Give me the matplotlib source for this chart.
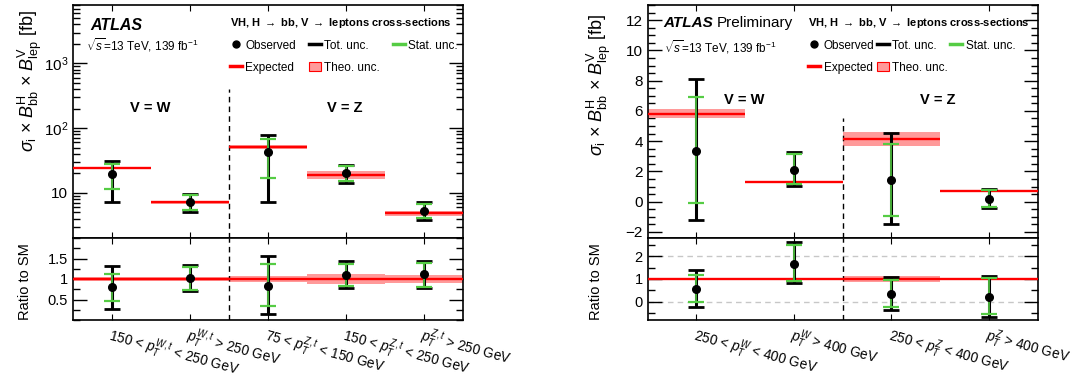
import matplotlib
matplotlib.use("Agg")
import matplotlib.pyplot as plt
import numpy as np
from matplotlib.ticker import FixedLocator, MultipleLocator, LogLocator, NullFormatter, FuncFormatter
from matplotlib.lines import Line2D
from matplotlib.patches import Patch

plt.rcParams['font.family'] = ['Liberation Sans', 'DejaVu Sans']
plt.rcParams['mathtext.fontset'] = 'custom'
plt.rcParams['mathtext.rm'] = 'Liberation Sans'
plt.rcParams['mathtext.it'] = 'Liberation Sans:italic'
plt.rcParams['mathtext.bf'] = 'Liberation Sans:bold'

# ---- left plot: 5 bins (medium pT + high pT, log scale)
labels_a = [r"150 < $p_{T}^{W,t}$ < 250 GeV",
            r"$p_{T}^{W,t}$ > 250 GeV",
            r"75 < $p_{T}^{Z,t}$ < 150 GeV",
            r"150 < $p_{T}^{Z,t}$ < 250 GeV",
            r"$p_{T}^{Z,t}$ > 250 GeV"]
exp_a = [24.0, 7.1, 51.0, 19.0, 4.8]
theo_a = [0.04, 0.04, 0.08, 0.13, 0.09]
obs_a = [19.3, 7.2, 42.5, 20.3, 5.3]
tot_lo_a = [7.2, 5.1, 7.2, 14.4, 3.85]
tot_hi_a = [31.0, 9.6, 79.0, 27.3, 7.2]
stat_lo_a = [11.5, 5.4, 17.2, 15.2, 4.1]
stat_hi_a = [27.5, 9.3, 67.0, 26.3, 6.8]
r_obs_a = [0.80, 1.02, 0.84, 1.09, 1.11]
r_tot_lo_a = [0.28, 0.71, 0.14, 0.78, 0.79]
r_tot_hi_a = [1.31, 1.34, 1.57, 1.43, 1.45]
r_stat_lo_a = [0.47, 0.74, 0.33, 0.82, 0.80]
r_stat_hi_a = [1.13, 1.30, 1.36, 1.37, 1.40]

# ---- right plot: 4 bins (very high pT, linear scale)
labels_b = [r"250 < $p_{T}^{W}$ < 400 GeV",
            r"$p_{T}^{W}$ > 400 GeV",
            r"250 < $p_{T}^{Z}$ < 400 GeV",
            r"$p_{T}^{Z}$ > 400 GeV"]
exp_b = [5.82, 1.27, 4.12, 0.72]
theo_b = [0.05, 0.04, 0.11, 0.05]
obs_b = [3.36, 2.09, 1.41, 0.20]
tot_lo_b = [-1.2, 1.03, -1.47, -0.43]
tot_hi_b = [8.1, 3.29, 4.52, 0.86]
stat_lo_b = [-0.07, 1.18, -0.94, -0.37]
stat_hi_b = [6.9, 3.14, 3.84, 0.75]
r_obs_b = [0.56, 1.68, 0.35, 0.22]
r_tot_lo_b = [-0.24, 0.81, -0.36, -0.66]
r_tot_hi_b = [1.39, 2.61, 1.09, 1.13]
r_stat_lo_b = [-0.03, 0.90, -0.24, -0.53]
r_stat_hi_b = [1.19, 2.50, 0.95, 1.03]

RED = '#ff0000'
BAND = '#ff9a9a'
GREEN = '#55cc44'


def draw_points(ax, x, obs, tlo, thi, slo, shi):
    obs = np.asarray(obs)
    ax.errorbar(x, obs, yerr=[obs - np.asarray(tlo), np.asarray(thi) - obs],
                fmt='none', ecolor='black', elinewidth=2.2, capsize=6, capthick=2, zorder=4)
    ax.errorbar(x, obs, yerr=[obs - np.asarray(slo), np.asarray(shi) - obs],
                fmt='none', ecolor=GREEN, elinewidth=1.2, capsize=6, capthick=1.6, zorder=5)
    ax.plot(x, obs, 'o', color='black', ms=5.5, zorder=6)


def draw_expected(ax, x, exp, theo):
    for i in range(len(x)):
        e, t = exp[i], theo[i]
        ax.fill_between([x[i] - 0.5, x[i] + 0.5], e * (1 - t), e * (1 + t),
                        color=BAND, lw=0, zorder=2)
        ax.hlines(e, x[i] - 0.5, x[i] + 0.5, color=RED, lw=1.7, zorder=3)


def style(ax, n):
    ax.set_xlim(-0.5, n - 0.5)
    ax.set_xticks(np.arange(n))
    ax.tick_params(axis='y', which='both', direction='in', left=True, right=True, labelsize=11)
    ax.tick_params(axis='y', which='major', length=10, width=1)
    ax.tick_params(axis='y', which='minor', length=5, width=1)
    ax.tick_params(axis='x', which='both', direction='in', top=True, bottom=True, length=4)
    for s in ax.spines.values():
        s.set_linewidth(1.2)


def add_legend(ax, x0, colsp):
    handles = [Line2D([], [], marker='o', color='black', ls='none', ms=5),
               Line2D([], [], color=RED, lw=2.5),
               Line2D([], [], color='black', lw=2.5),
               Patch(facecolor=BAND, edgecolor=RED, lw=0.8),
               Line2D([], [], color=GREEN, lw=2.5)]
    names = ['Observed', 'Expected', 'Tot. unc.', 'Theo. unc.', 'Stat. unc.']
    leg = ax.legend(handles, names, ncol=3, loc='upper left', bbox_to_anchor=(x0, 0.975),
                    frameon=False, fontsize=8.5, handlelength=1.0, handletextpad=0.3,
                    columnspacing=colsp, labelspacing=0.85, borderaxespad=0,
                    title=r"VH, H $\rightarrow$ bb, V $\rightarrow$ leptons cross-sections",
                    title_fontproperties={'weight': 'bold', 'size': 8}, alignment='left')
    return leg


fig = plt.figure(figsize=(10.91, 3.83), dpi=100)

# ===== left
ax1 = fig.add_axes([73 / 1091, 145 / 383, 390 / 1091, 233 / 383])
rx1 = fig.add_axes([73 / 1091, 63 / 383, 390 / 1091, 82 / 383])
xa = np.arange(len(exp_a))
draw_expected(ax1, xa, exp_a, theo_a)
draw_points(ax1, xa, obs_a, tot_lo_a, tot_hi_a, stat_lo_a, stat_hi_a)
ax1.set_yscale('log')
ax1.set_ylim(2, 8000)
style(ax1, len(xa))
ax1.yaxis.set_major_locator(FixedLocator([10, 100, 1000]))
ax1.yaxis.set_major_formatter(FuncFormatter(lambda v, p: "10" if v == 10 else r"$10^{%d}$" % round(np.log10(v))))
ax1.yaxis.set_minor_locator(LogLocator(subs=np.arange(2, 10), numticks=20))
ax1.yaxis.set_minor_formatter(NullFormatter())
ax1.tick_params(axis='x', labelbottom=False)
ax1.axvline(1.5, ymax=0.64, color='black', ls=(0, (4, 3)), lw=1)

draw_expected(rx1, xa, np.ones(len(xa)), theo_a)
draw_points(rx1, xa, r_obs_a, r_tot_lo_a, r_tot_hi_a, r_stat_lo_a, r_stat_hi_a)
rx1.set_ylim(0, 2)
style(rx1, len(xa))
rx1.yaxis.set_major_locator(FixedLocator([0.5, 1, 1.5]))
rx1.yaxis.set_major_formatter(FuncFormatter(lambda v, p: "%g" % v))
rx1.yaxis.set_minor_locator(MultipleLocator(0.25))
rx1.tick_params(axis='y', labelsize=10.5)
rx1.axvline(1.5, color='black', ls=(0, (4, 3)), lw=1)
rx1.set_xticklabels(labels_a, rotation=-15, ha='left', va='top', rotation_mode='anchor', fontsize=9.8)

ax1.text(0.044, 0.914, "ATLAS", transform=ax1.transAxes, fontsize=11.5, fontweight='bold',
         fontstyle='italic', va='center')
ax1.text(0.033, 0.828, r"$\sqrt{s}$=13 TeV, 139 fb$^{-1}$", transform=ax1.transAxes, fontsize=8.5, va='center')
ax1.text(0.197, 0.558, "V = W", transform=ax1.transAxes, fontsize=10.5, fontweight='bold', ha='center', va='center')
ax1.text(0.697, 0.558, "V = Z", transform=ax1.transAxes, fontsize=10.5, fontweight='bold', ha='center', va='center')
add_legend(ax1, 0.39, 1.1)

# ===== right
ax2 = fig.add_axes([647.7 / 1091, 145 / 383, 390 / 1091, 233 / 383])
rx2 = fig.add_axes([647.7 / 1091, 63 / 383, 390 / 1091, 82 / 383])
xb = np.arange(len(exp_b))
draw_expected(ax2, xb, exp_b, theo_b)
draw_points(ax2, xb, obs_b, tot_lo_b, tot_hi_b, stat_lo_b, stat_hi_b)
ax2.set_ylim(-2.4, 13)
style(ax2, len(xb))
ax2.yaxis.set_major_locator(MultipleLocator(2))
ax2.yaxis.set_minor_locator(MultipleLocator(0.5))
ax2.yaxis.set_major_formatter(FuncFormatter(lambda v, p: "%d" % v if v >= 0 else "\u2212%d" % -v))
ax2.tick_params(axis='x', labelbottom=False)
ax2.axvline(1.5, ymax=0.515, color='black', ls=(0, (4, 3)), lw=1)

for g in (0, 2):
    rx2.axhline(g, color='0.78', ls=(0, (4, 3)), lw=1, zorder=1)
draw_expected(rx2, xb, np.ones(len(xb)), theo_b)
draw_points(rx2, xb, r_obs_b, r_tot_lo_b, r_tot_hi_b, r_stat_lo_b, r_stat_hi_b)
rx2.set_ylim(-0.8, 2.8)
style(rx2, len(xb))
rx2.yaxis.set_major_locator(FixedLocator([0, 1, 2]))
rx2.yaxis.set_minor_locator(MultipleLocator(0.5))
rx2.tick_params(axis='y', labelsize=10.5)
rx2.axvline(1.5, color='black', ls=(0, (4, 3)), lw=1)
rx2.set_xticklabels(labels_b, rotation=-15, ha='left', va='top', rotation_mode='anchor', fontsize=9.8)

ax2.text(0.039, 0.923, "ATLAS", transform=ax2.transAxes, fontsize=11, fontweight='bold',
         fontstyle='italic', va='center')
ax2.text(0.178, 0.923, "Preliminary", transform=ax2.transAxes, fontsize=11, va='center')
ax2.text(0.042, 0.82, r"$\sqrt{s}$=13 TeV, 139 fb$^{-1}$", transform=ax2.transAxes, fontsize=8.5, va='center')
ax2.text(0.247, 0.592, "V = W", transform=ax2.transAxes, fontsize=10.5, fontweight='bold', ha='center', va='center')
ax2.text(0.744, 0.592, "V = Z", transform=ax2.transAxes, fontsize=10.5, fontweight='bold', ha='center', va='center')
add_legend(ax2, 0.40, 0.2)

ylab = r"$\sigma_{\rm i}$ $\times$ $B^{\rm H}_{\rm bb}$ $\times$ $B^{\rm V}_{\rm lep}$ [fb]"
fig.text(0.0275, 0.788, ylab, rotation=90, ha='center', va='center', fontsize=13)
fig.text(0.549, 0.778, ylab, rotation=90, ha='center', va='center', fontsize=13)
fig.text(0.023, 0.266, "Ratio to SM", rotation=90, ha='center', va='center', fontsize=10.5)
fig.text(0.546, 0.266, "Ratio to SM", rotation=90, ha='center', va='center', fontsize=10.5)

fig.savefig("out.png", dpi=100)
